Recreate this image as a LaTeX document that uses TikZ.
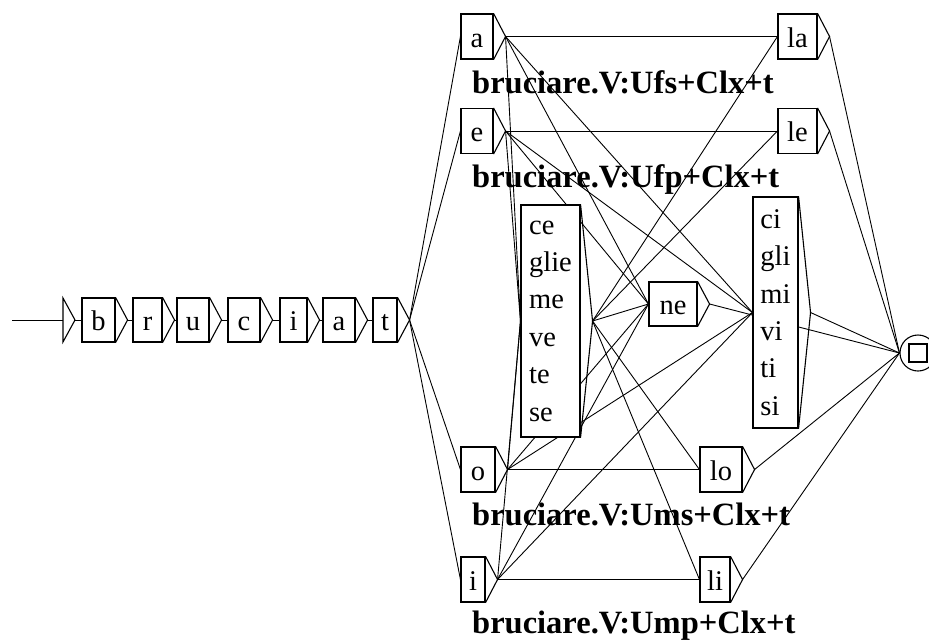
\documentclass[tikz,border=0pt]{standalone}
\usepackage{fontspec}
\setmainfont{Liberation Serif}
\usetikzlibrary{shapes.geometric}
\pgfdeclarelayer{background}
\pgfsetlayers{background,main}
\tikzstyle{grbox}=[draw, fill=white, line width=1.1pt, inner sep=0pt, font=\fontsize{28.5}{37.4}\selectfont]
\tikzstyle{stembox}=[grbox, minimum height=44, text height=24pt, text depth=3pt]
\tikzstyle{endbox}=[grbox, minimum height=45, text height=24pt, text depth=3pt]
\tikzstyle{boxline}=[line width=1.1pt, line join=miter]
\tikzstyle{conn}=[line width=0.9pt]
\tikzstyle{outlbl}=[anchor=base west, inner sep=0pt, font=\fontsize{32.5}{32.5}\selectfont\bfseries]

\begin{document}
\begin{tikzpicture}[x=1pt, y=-1pt]
    \useasboundingbox (0,0) rectangle (929,641);
    % stem
    \coordinate (entry) at (12,320);
    \coordinate (init) at (63,320);
    \coordinate (init-out) at (75,320);
    \draw[boxline] (63,298) -- (init-out) -- (63,342) -- cycle;
    \node[stembox, minimum width=33] (b) at (98.5,320) {b};
    \node[stembox, minimum width=29] (r) at (147.5,320) {r};
    \node[stembox, minimum width=32] (u) at (193,320) {u};
    \node[stembox, minimum width=32] (c) at (244,320) {c};
    \node[stembox, minimum width=27] (i) at (293.5,320) {i};
    \node[stembox, minimum width=32] (a) at (339,320) {a};
    \node[stembox, minimum width=24] (t) at (385,320) {t};
    % endings
    \node[endbox, minimum width=32] (enda) at (477,36.5) {a};
    \node[endbox, minimum width=32] (ende) at (477,131) {e};
    \node[endbox, minimum width=34] (endo) at (478,469.5) {o};
    \node[endbox, minimum width=24] (endi) at (473,579.5) {i};
    % clitics
    \node[grbox, align=left, minimum width=59, minimum height=232] (ceb) at (550.5,321) {ce\\glie\\me\\ve\\te\\se};
    \node[stembox, minimum width=48] (ne) at (673,304) {ne};
    \node[grbox, align=left, minimum width=45, minimum height=231] (cib) at (775.5,312.5) {ci\\gli\\mi\\vi\\ti\\si};
    \node[endbox, minimum width=39] (la) at (797.5,36.5) {la};
    \node[endbox, minimum width=39] (le) at (797.5,131) {le};
    \node[endbox, minimum width=42] (lo) at (721,469.5) {lo};
    \node[endbox, minimum width=30] (li) at (715,579.5) {li};
    % final state
    \node[draw, circle, line width=1.1pt, minimum size=36, inner sep=0pt] (final) at (918,353) {};
    \node[draw, line width=1.1pt, minimum size=18, inner sep=0pt] (finalsq) at (final) {};
    % outputs
    \node[outlbl] (outa) at (472,93) {bruciare.V:Ufs+Clx+t};
    \node[outlbl] (oute) at (472,187) {bruciare.V:Ufp+Clx+t};
    \node[outlbl] (outo) at (472,525) {bruciare.V:Ums+Clx+t};
    \node[outlbl] (outi) at (472,633) {bruciare.V:Ump+Clx+t};
    % box arrows
    \foreach \n in {b,r,u,c,i,a,t,enda,ende,endo,endi,ceb,ne,cib,la,le,lo,li}
        \draw[boxline] (\n.north east) -- ([xshift=12]\n.east) coordinate (\n-out) -- (\n.south east);
    % transitions
    \begin{pgfonlayer}{background}
    \draw[conn] (entry) -- (init);
    \draw[conn] (init-out) -- (b.west);
    \foreach \s/\d in {b/r, r/u, u/c, c/i, i/a, a/t}
        \draw[conn] (\s-out) -- (\d.west);
    \foreach \d in {enda,ende,endo,endi}
        \draw[conn] (t-out) -- (\d.west);
    \foreach \v/\l in {enda/la, ende/le, endo/lo, endi/li} {
        \draw[conn] (\v-out) -- (\l.west);
        \foreach \d in {ceb,ne,cib}
            \draw[conn] (\v-out) -- (\d.west);
    }
    \foreach \d in {ne,la,le,lo,li}
        \draw[conn] (ceb-out) -- (\d.west);
    \foreach \s in {ne,cib,la,le,lo,li}
        \draw[conn] (\s-out) -- (final.west);
    \end{pgfonlayer}
\end{tikzpicture}
\end{document}
